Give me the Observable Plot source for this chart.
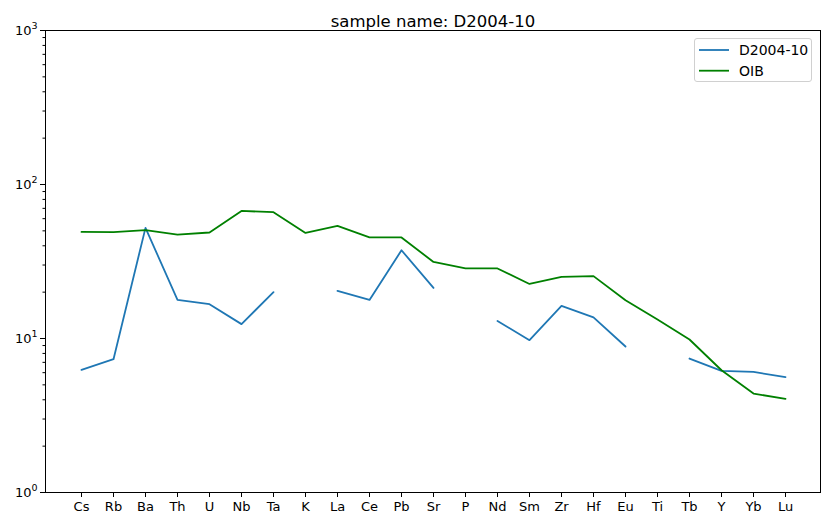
<!DOCTYPE html>
<html>
<head>
<meta charset="utf-8">
<script src="https://cdn.jsdelivr.net/npm/d3@7"></script>
<script src="https://cdn.jsdelivr.net/npm/@observablehq/plot@0.6"></script>
<style>
  html, body { margin: 0; padding: 0; background: #fff; }
  #wrap { position: relative; width: 830px; height: 526px; font-family: "DejaVu Sans", sans-serif; }
  #legend { position: absolute; left: 694px; top: 38px; width: 118px; height: 44px;
    border: 1px solid #d0d0d0; border-radius: 3px; background: rgba(255,255,255,0.8); box-sizing: border-box; }
</style>
</head>
<body>
<div id="wrap"><div id="legend"></div></div>
<script>
const title = "sample name: D2004-10";
const elements = ["Cs","Rb","Ba","Th","U","Nb","Ta","K","La","Ce","Pb","Sr","P","Nd","Sm","Zr","Hf","Eu","Ti","Tb","Y","Yb","Lu"];
const sampleName = "D2004-10";
const sampleValues = [6.25, 7.34, 52.3, 17.8, 16.7, 12.4, 20.0, null, 20.4, 17.8, 37.4, 21.3, null, 13.0, 9.75, 16.3, 13.7, 8.87, null, 7.41, 6.16, 6.07, 5.61];
const oibName = "OIB";
const oibValues = [49.2, 49.0, 50.5, 47.3, 48.8, 67.4, 66.1, 48.5, 53.8, 45.3, 45.3, 31.4, 28.5, 28.5, 22.6, 25.1, 25.4, 17.7, 13.3, 9.85, 6.22, 4.39, 4.05];
const majorTicks = [1, 10, 100, 1000];
const majorExponents = ["0", "1", "2", "3"];
const seriesColors = ["#1f77b4", "green"];

const minorTicks = [];
for (const d of [1, 10, 100]) for (let k = 2; k <= 9; k++) minorTicks.push(d * k);

const sampleData = elements.map((e, i) => ({el: e, v: sampleValues[i]}));
const oibData = elements.map((e, i) => ({el: e, v: oibValues[i]}));

const chart = Plot.plot({
  width: 830,
  height: 526,
  marginLeft: 45,
  marginRight: 10,
  marginTop: 30,
  marginBottom: 34,
  style: {fontFamily: "DejaVu Sans, sans-serif", fontSize: "13px", color: "#000", background: "transparent"},
  x: {type: "point", domain: elements, padding: 1.1, label: null},
  y: {type: "log", domain: [1, 1000], label: null},
  marks: [
    Plot.axisX({tickSize: 5, tickPadding: 4, fontSize: 13, label: null}),
    Plot.axisY({ticks: majorTicks, tickFormat: d => "10^" + majorExponents[majorTicks.indexOf(d)], tickSize: 5, tickPadding: 3, fontSize: 13, label: null, ariaLabel: "y-major"}),
    Plot.axisY({ticks: minorTicks, tickFormat: () => "", tickSize: 2.5, label: null}),
    Plot.line(sampleData, {x: "el", y: "v", stroke: seriesColors[0], strokeWidth: 1.8, defined: d => d.v != null}),
    Plot.line(oibData, {x: "el", y: "v", stroke: seriesColors[1], strokeWidth: 1.8}),
    Plot.frame({stroke: "#000", strokeWidth: 1}),
    Plot.text([title], {frameAnchor: "top", dy: -15, fontSize: 16.5, fill: "#000", text: d => d})
  ]
});
document.getElementById("wrap").prepend(chart);

// render mathtext-like superscripts for the y tick labels
d3.select(chart).selectAll("text").each(function() {
  const t = this.textContent;
  const m = /^10\^(\d)$/.exec(t);
  if (m) {
    const sel = d3.select(this);
    sel.text("10");
    sel.append("tspan").attr("font-size", 9.5).attr("dy", "-0.55em").text(m[1]);
  }
});

// legend
const lg = d3.select("#legend").append("svg").attr("width", 118).attr("height", 44)
  .style("font-family", "DejaVu Sans, sans-serif");
[[sampleName, seriesColors[0]], [oibName, seriesColors[1]]].forEach(([name, c], i) => {
  const y = 11 + i * 20.7;
  lg.append("line").attr("x1", 4).attr("x2", 34).attr("y1", y).attr("y2", y).attr("stroke", c).attr("stroke-width", 1.8);
  lg.append("text").attr("x", 44).attr("y", y).attr("dy", "0.35em").attr("font-size", 14).text(name);
});
</script>
</body>
</html>
